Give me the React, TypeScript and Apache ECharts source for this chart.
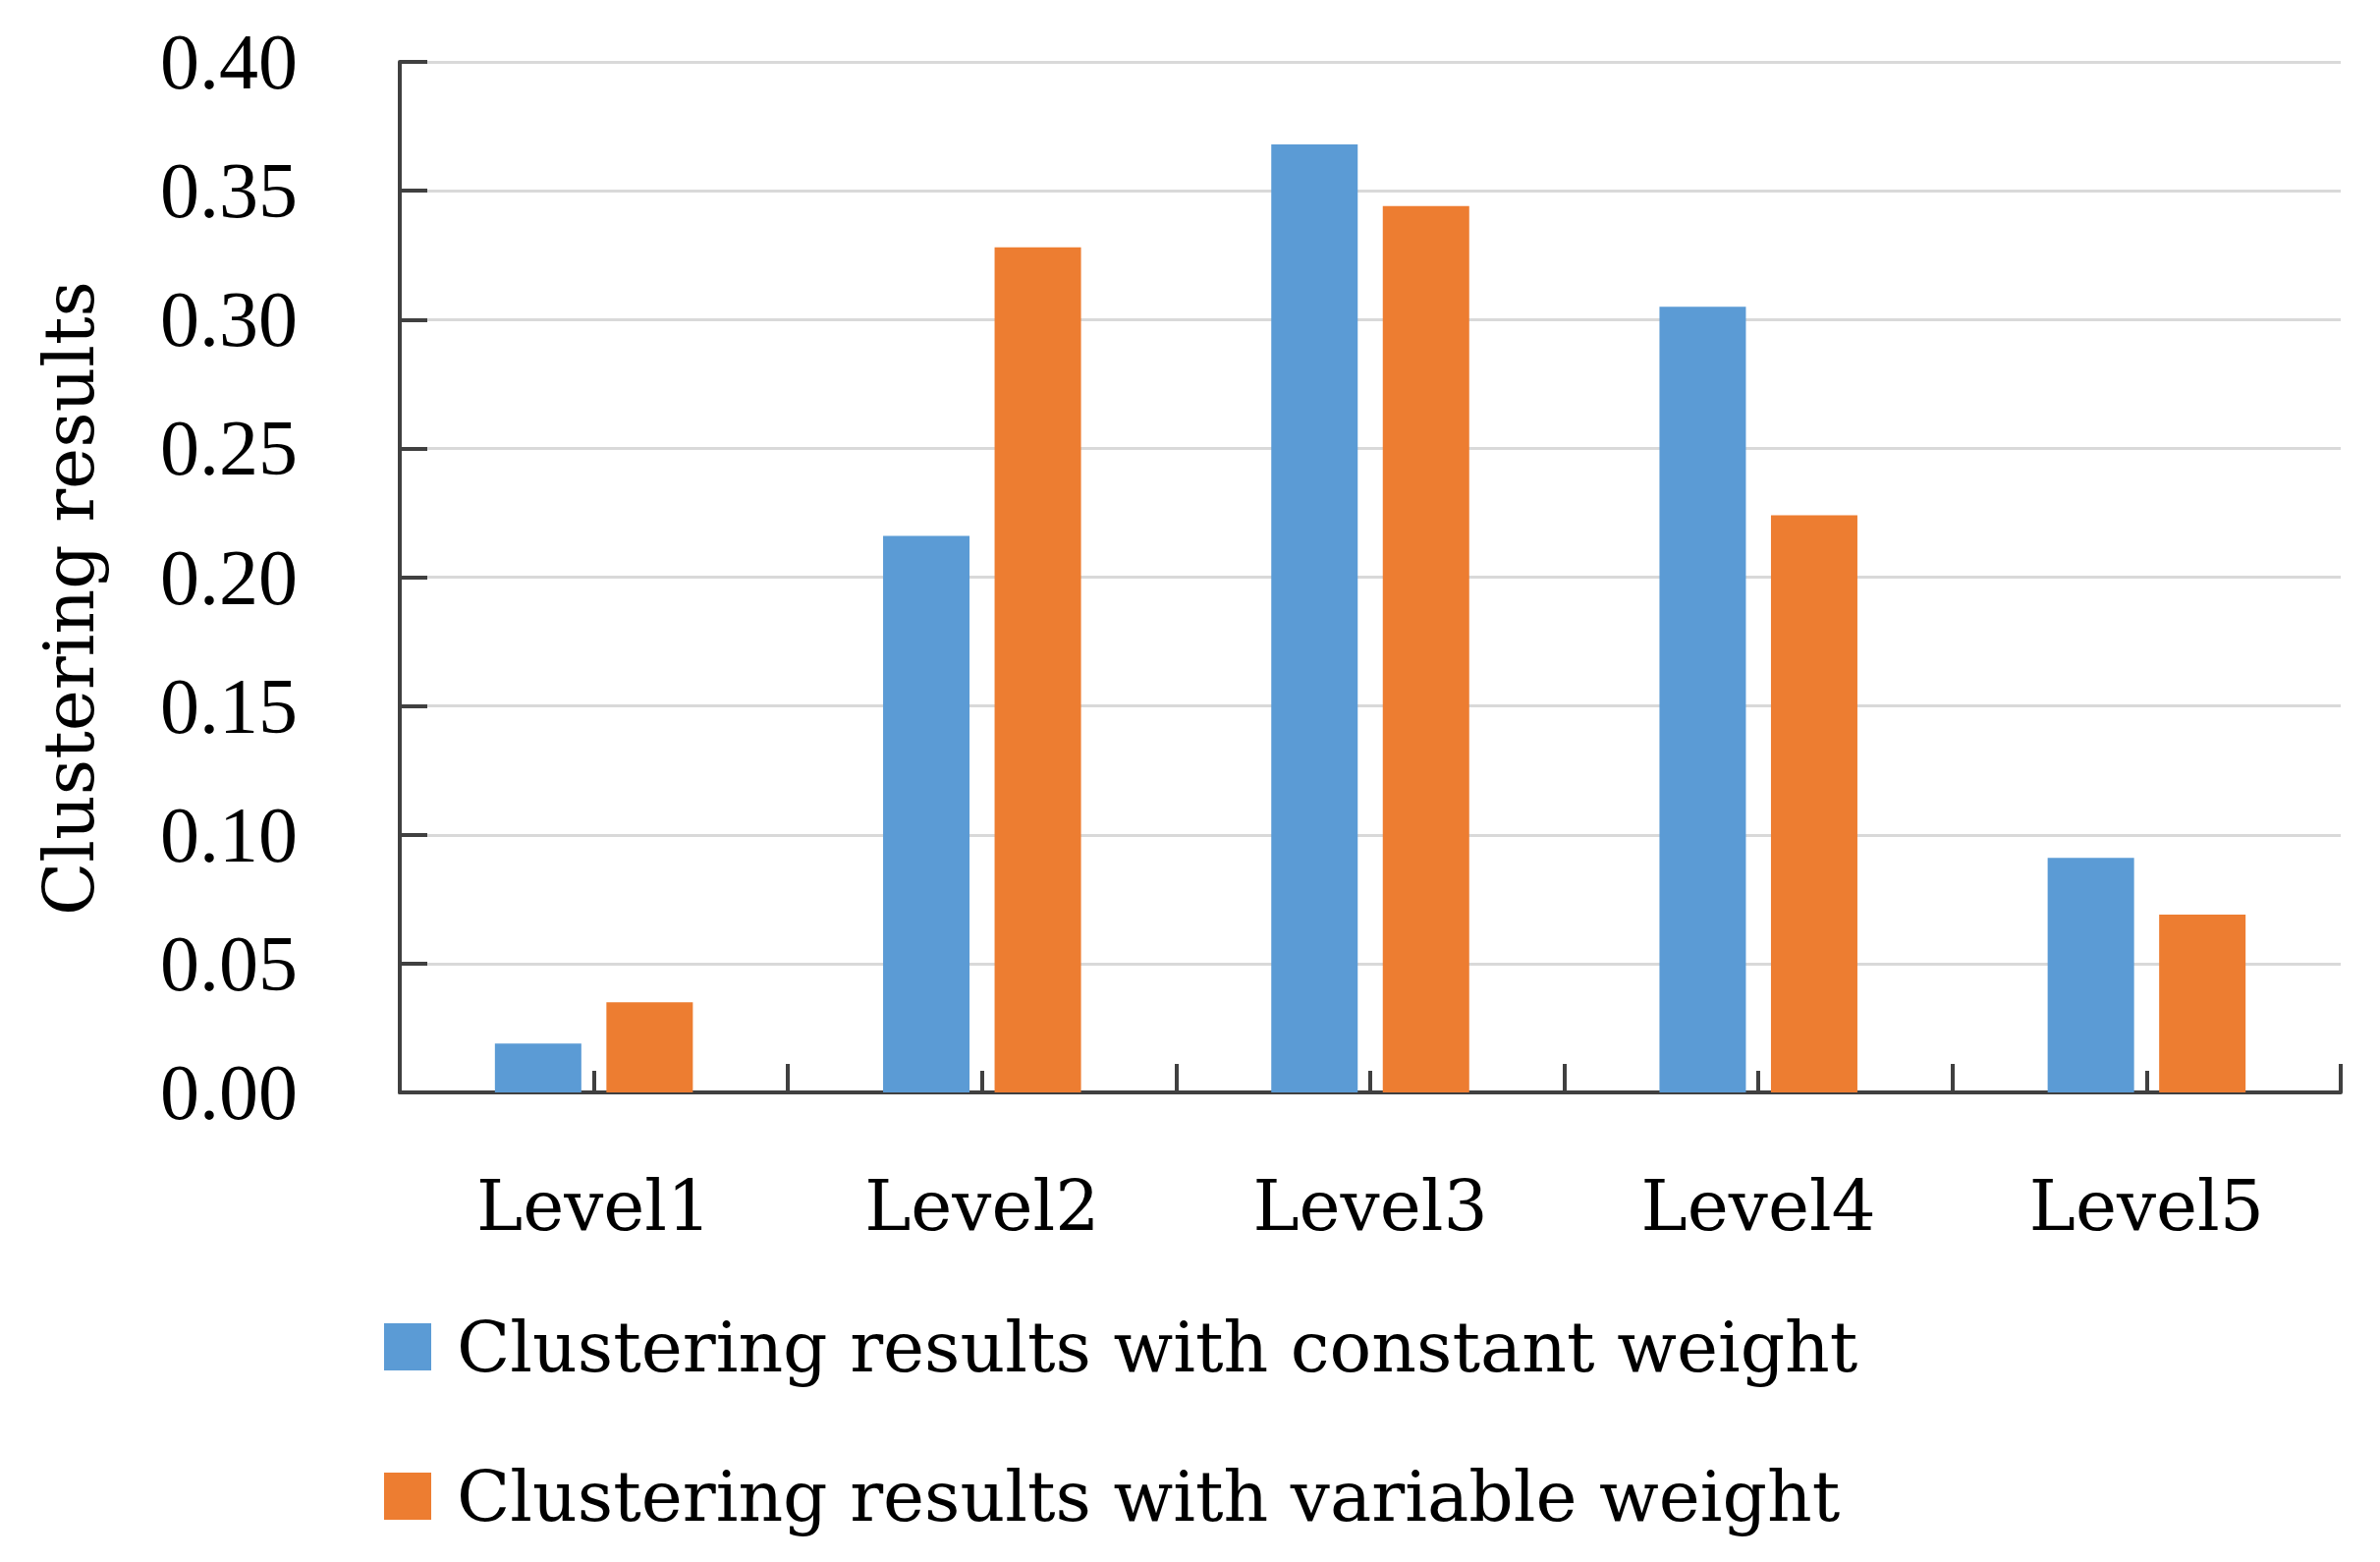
import React, { useEffect, useRef } from "react";
import * as echarts from "echarts";

const categories = ["Level1", "Level2", "Level3", "Level4", "Level5"];
const constantWeight = [0.019, 0.216, 0.368, 0.305, 0.091];
const variableWeight = [0.035, 0.328, 0.344, 0.224, 0.069];
const seriesNames = [
  "Clustering results with constant weight",
  "Clustering results with variable weight",
];
const yAxisTitle = "Clustering results";

const NUM_FONT = "'Liberation Serif', 'DejaVu Serif', serif";
const TEXT_FONT = "'DejaVu Serif', 'Liberation Serif', serif";

export default function App() {
  const ref = useRef<HTMLDivElement>(null);
  useEffect(() => {
    if (!ref.current) return;
    const chart = echarts.init(ref.current, null, { renderer: "svg" });
    chart.setOption({
      animation: false,
      backgroundColor: "#ffffff",
      textStyle: { fontFamily: NUM_FONT },
      grid: { left: 407, right: 40, top: 63, bottom: 478, containLabel: false },
      legend: {
        orient: "vertical",
        left: 386,
        top: 1326,
        itemWidth: 48,
        itemHeight: 48,
        itemGap: 72,
        icon: "rect",
        textStyle: {
          fontFamily: TEXT_FONT,
          fontSize: 71,
          lineHeight: 80,
          color: "#000",
          padding: [0, 0, 0, 21],
        },
        data: seriesNames,
      },
      xAxis: [
        {
          type: "category",
          data: categories,
          boundaryGap: true,
          axisLine: { lineStyle: { color: "#404040", width: 4 } },
          axisTick: {
            show: true,
            inside: true,
            length: 29,
            interval: 0,
            lineStyle: { color: "#404040", width: 4 },
          },
          axisLabel: {
            fontFamily: TEXT_FONT,
            fontSize: 71,
            color: "#000",
            margin: 80,
          },
          splitLine: { show: false },
        },
        {
          type: "value",
          min: 0,
          max: 5,
          interval: 1,
          position: "bottom",
          axisLine: { show: false },
          axisLabel: { show: false },
          axisTick: { show: false, inside: true },
          splitLine: { show: false },
          minorTick: {
            show: true,
            splitNumber: 2,
            length: 22,
            lineStyle: { color: "#404040", width: 4 },
          },
          minorSplitLine: { show: false },
        },
      ],
      yAxis: {
        type: "value",
        min: 0,
        max: 0.4,
        interval: 0.05,
        axisLine: { show: true, lineStyle: { color: "#404040", width: 4 } },
        axisTick: {
          show: true,
          inside: true,
          length: 28,
          lineStyle: { color: "#404040", width: 4 },
        },
        axisLabel: {
          fontFamily: NUM_FONT,
          fontSize: 80,
          color: "#000",
          margin: 104,
          formatter: (v: number) => v.toFixed(2),
        },
        splitLine: { show: true, lineStyle: { color: "#d9d9d9", width: 3 } },
      },
      graphic: [
        {
          type: "text",
          x: 70,
          y: 609,
          rotation: Math.PI / 2,
          style: {
            text: yAxisTitle,
            fontFamily: TEXT_FONT,
            fontSize: 71,
            fill: "#000",
            align: "center",
            verticalAlign: "middle",
          },
        },
      ],
      series: [
        {
          name: seriesNames[0],
          type: "bar",
          data: constantWeight,
          barWidth: 88,
          barGap: "29%",
          itemStyle: { color: "#5B9BD5" },
        },
        {
          name: seriesNames[1],
          type: "bar",
          data: variableWeight,
          barWidth: 88,
          barGap: "29%",
          itemStyle: { color: "#ED7D31" },
        },
      ],
    });
    return () => chart.dispose();
  }, []);
  return (
    <div
      ref={ref}
      style={{ position: "fixed", left: 0, top: 0, width: 2423, height: 1590 }}
    />
  );
}
